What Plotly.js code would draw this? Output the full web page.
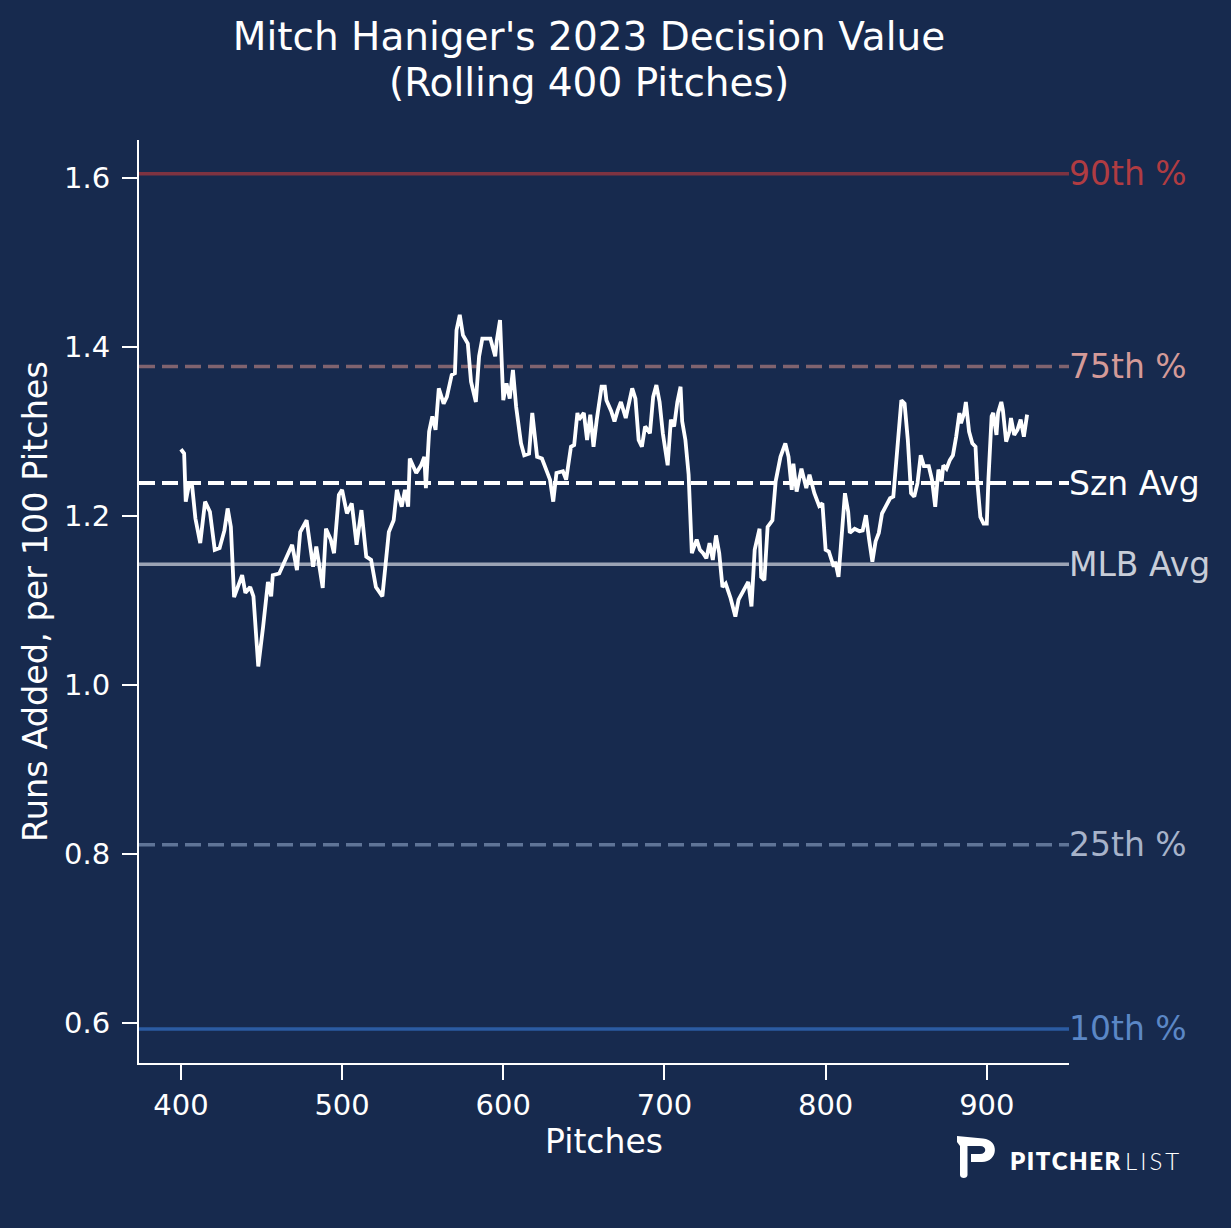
<!DOCTYPE html>
<html>
<head>
<meta charset="utf-8">
<script src="https://cdn.plot.ly/plotly-3.0.1.min.js"></script>
<style>
  html, body { margin: 0; padding: 0; background: #172a4e; }
  #chart { width: 1231px; height: 1228px; }
</style>
</head>
<body>
<div id="chart"></div>
<script>
// ---- Data ----
const pitches = [400,402,403,405,407,409,412,415,418,421,424,427,429,431,433,436,438,440,443,445,448,451,454,456,457,461,464,469,472,474,478,480,482,484,488,490,493,495,498,500,503,506,509,512,515,518,521,525,529,532,534,537,539,541,542,546,549,551,552,554,556,558,560,563,565,568,570,571,573,575,578,580,583,585,587,592,595,596,598,600,602,604,606,608,611,613,616,618,621,624,627,629,631,633,637,639,642,644,646,647,650,652,654,656,658,661,663,664,667,669,671,673,676,680,682,684,686,688,691,693,695,697,699,702,704,706,708,710,711,713,715,717,720,722,724,726,728,730,732,734,736,738,741,744,746,749,752,754,756,759,760,762,764,767,769,772,775,777,779,780,782,785,788,790,793,796,798,800,802,805,806,808,810,812,814,815,818,821,823,825,827,829,831,833,835,838,840,842,843,845,847,849,851,853,855,857,859,861,864,866,868,870,872,873,875,877,879,881,883,884,886,887,889,891,893,894,896,898,900,901,903,904,906,907,909,910,912,914,915,917,919,921,923,925];
const runsAdded = [1.279,1.274,1.217,1.237,1.235,1.197,1.168,1.217,1.205,1.160,1.162,1.183,1.209,1.187,1.104,1.118,1.130,1.109,1.116,1.105,1.022,1.069,1.122,1.105,1.130,1.132,1.144,1.166,1.136,1.181,1.195,1.164,1.140,1.164,1.115,1.185,1.172,1.156,1.225,1.231,1.203,1.215,1.166,1.207,1.152,1.148,1.116,1.105,1.181,1.195,1.231,1.211,1.231,1.211,1.268,1.251,1.260,1.270,1.233,1.300,1.318,1.302,1.351,1.333,1.341,1.367,1.369,1.420,1.438,1.414,1.404,1.359,1.335,1.389,1.410,1.410,1.389,1.408,1.432,1.337,1.357,1.339,1.373,1.329,1.286,1.272,1.274,1.322,1.270,1.268,1.254,1.243,1.217,1.251,1.253,1.243,1.282,1.284,1.322,1.314,1.322,1.290,1.320,1.282,1.314,1.353,1.353,1.337,1.324,1.312,1.325,1.335,1.316,1.351,1.339,1.290,1.282,1.306,1.298,1.341,1.355,1.335,1.298,1.260,1.314,1.306,1.335,1.353,1.312,1.290,1.249,1.156,1.172,1.160,1.156,1.150,1.168,1.148,1.177,1.156,1.116,1.120,1.103,1.081,1.101,1.112,1.122,1.093,1.160,1.185,1.128,1.124,1.187,1.195,1.241,1.270,1.286,1.270,1.231,1.262,1.229,1.256,1.233,1.249,1.227,1.212,1.215,1.160,1.158,1.140,1.146,1.128,1.183,1.227,1.205,1.180,1.185,1.182,1.183,1.201,1.172,1.146,1.170,1.180,1.203,1.213,1.221,1.223,1.246,1.290,1.337,1.333,1.290,1.227,1.223,1.239,1.272,1.259,1.259,1.243,1.211,1.255,1.241,1.260,1.256,1.266,1.272,1.294,1.322,1.310,1.322,1.335,1.300,1.286,1.282,1.243,1.199,1.191,1.191,1.243,1.318,1.322,1.296,1.322,1.335,1.325,1.288,1.300,1.316,1.296,1.302,1.314,1.294,1.320];

const refLabels = ["90th %", "75th %", "Szn Avg", "MLB Avg", "25th %", "10th %"];
const refValues = [1.605, 1.377, 1.239, 1.143, 0.811, 0.593];

const xTickValues = [400, 500, 600, 700, 800, 900];
const yTickValues = [0.6, 0.8, 1.0, 1.2, 1.4, 1.6];
const yTickLabels = ["0.6", "0.8", "1.0", "1.2", "1.4", "1.6"];

const titleLine1 = "Mitch Haniger's 2023 Decision Value";
const titleLine2 = "(Rolling 400 Pitches)";
const xTitle = "Pitches";
const yTitle = "Runs Added, per 100 Pitches";
const brandBold = "PITCHER";
const brandLight = "LIST";

// ---- Styles (not data) ----
const BG = "#172a4e";
const FONT = "DejaVu Sans, sans-serif";
const refStyles = {
  "90th %":  {line: "#7e3341", text: "#b03c42", dash: "solid", width: 3.5},
  "75th %":  {line: "#80636f", text: "#d49a98", dash: "16px,7px", width: 3.5},
  "Szn Avg": {line: "#ffffff", text: "#ffffff", dash: "16px,7px", width: 4},
  "MLB Avg": {line: "#9ba3b5", text: "#c8cdd8", dash: "solid", width: 3.5},
  "25th %":  {line: "#5f7497", text: "#a7b3ca", dash: "16px,7px", width: 3.5},
  "10th %":  {line: "#2b5ba2", text: "#5b87c6", dash: "solid", width: 3.5}
};

// pixel -> paper helpers for logo / title placement only
const PL = 139, PR = 1069, PT = 140, PB = 1063;
const px = v => (v - PL) / (PR - PL);
const py = v => (PB - v) / (PB - PT);

const shapes = refLabels.map((lab, i) => ({
  type: "line", xref: "paper", yref: "y", x0: 0, x1: 1,
  y0: refValues[i], y1: refValues[i], layer: "below",
  line: {color: refStyles[lab].line, width: refStyles[lab].width, dash: refStyles[lab].dash}
}));

// Logo "P" mark
const pPts = [
  ["M", 957, 1136], ["L", 983, 1138.5],
  ["C", 1000, 1140, 998, 1162, 982, 1162],
  ["L", 971, 1162], ["L", 971, 1154], ["L", 980, 1154],
  ["C", 987, 1154, 987, 1146, 980, 1146],
  ["L", 967.5, 1146], ["L", 967.5, 1175],
  ["C", 967.5, 1179, 960, 1179, 960, 1175],
  ["L", 960, 1146], ["L", 957, 1142]
];
let pPath = "";
pPts.forEach(p => {
  pPath += p[0];
  for (let k = 1; k < p.length; k += 2) {
    pPath += " " + px(p[k]).toFixed(5) + "," + py(p[k + 1]).toFixed(5);
  }
  pPath += " ";
});
pPath += "Z";
shapes.push({type: "path", xref: "paper", yref: "paper", path: pPath,
  fillcolor: "#ffffff", line: {width: 0}, layer: "above"});

const annotations = refLabels.map((lab, i) => ({
  xref: "paper", yref: "y", x: 1, y: refValues[i],
  xanchor: "left", yanchor: "middle", xshift: -2,
  text: lab, showarrow: false,
  font: {family: FONT, size: 33, color: refStyles[lab].text}
}));
annotations.push({
  xref: "paper", yref: "paper", x: px(1008), y: py(1160),
  xanchor: "left", yanchor: "middle", showarrow: false,
  text: brandBold.split("").join("\u200A"),
  font: {family: "Lato, sans-serif", size: 24, weight: 800, color: "#ffffff"}
});
annotations.push({
  xref: "paper", yref: "paper", x: px(1123), y: py(1160),
  xanchor: "left", yanchor: "middle", showarrow: false,
  text: brandLight.split("").join("\u2009"),
  font: {family: "Lato, sans-serif", size: 24, weight: 300, color: "#ffffff"}
});
// second title line
annotations.push({
  xref: "paper", yref: "paper", x: px(589), y: py(82),
  xanchor: "center", yanchor: "middle", showarrow: false,
  text: titleLine2, font: {family: FONT, size: 39, color: "#ffffff"}
});

const trace = {
  x: pitches, y: runsAdded, type: "scatter", mode: "lines",
  line: {color: "#ffffff", width: 3.8}, hoverinfo: "skip"
};

const axisCommon = {
  showgrid: false, zeroline: false, showline: true, linecolor: "#ffffff", linewidth: 2,
  ticks: "outside", ticklen: 15, tickwidth: 2, tickcolor: "#ffffff",
  tickfont: {family: FONT, size: 29, color: "#ffffff"}, mirror: false
};

const layout = {
  width: 1231, height: 1228,
  paper_bgcolor: BG, plot_bgcolor: BG,
  margin: {l: PL, r: 1231 - PR, t: PT, b: 1228 - PB, pad: 0},
  showlegend: false,
  title: {
    text: titleLine1, xref: "container", x: 589 / 1231, xanchor: "center",
    yref: "container", y: 1 - 36 / 1228, yanchor: "middle",
    font: {family: FONT, size: 39, color: "#ffffff"}
  },
  xaxis: Object.assign({}, axisCommon, {
    range: [374, 951], tickvals: xTickValues, ticklabelstandoff: 0,
    title: {text: xTitle, standoff: 0, font: {family: FONT, size: 33, color: "#ffffff"}}
  }),
  yaxis: Object.assign({}, axisCommon, {
    range: [0.5527, 1.645], tickvals: yTickValues, ticktext: yTickLabels, ticklabelstandoff: 6,
    title: {text: yTitle, standoff: 6, font: {family: FONT, size: 33.5, color: "#ffffff"}}
  }),
  shapes: shapes,
  annotations: annotations
};

Plotly.newPlot("chart", [trace], layout, {displayModeBar: false, staticPlot: true});
</script>
</body>
</html>
